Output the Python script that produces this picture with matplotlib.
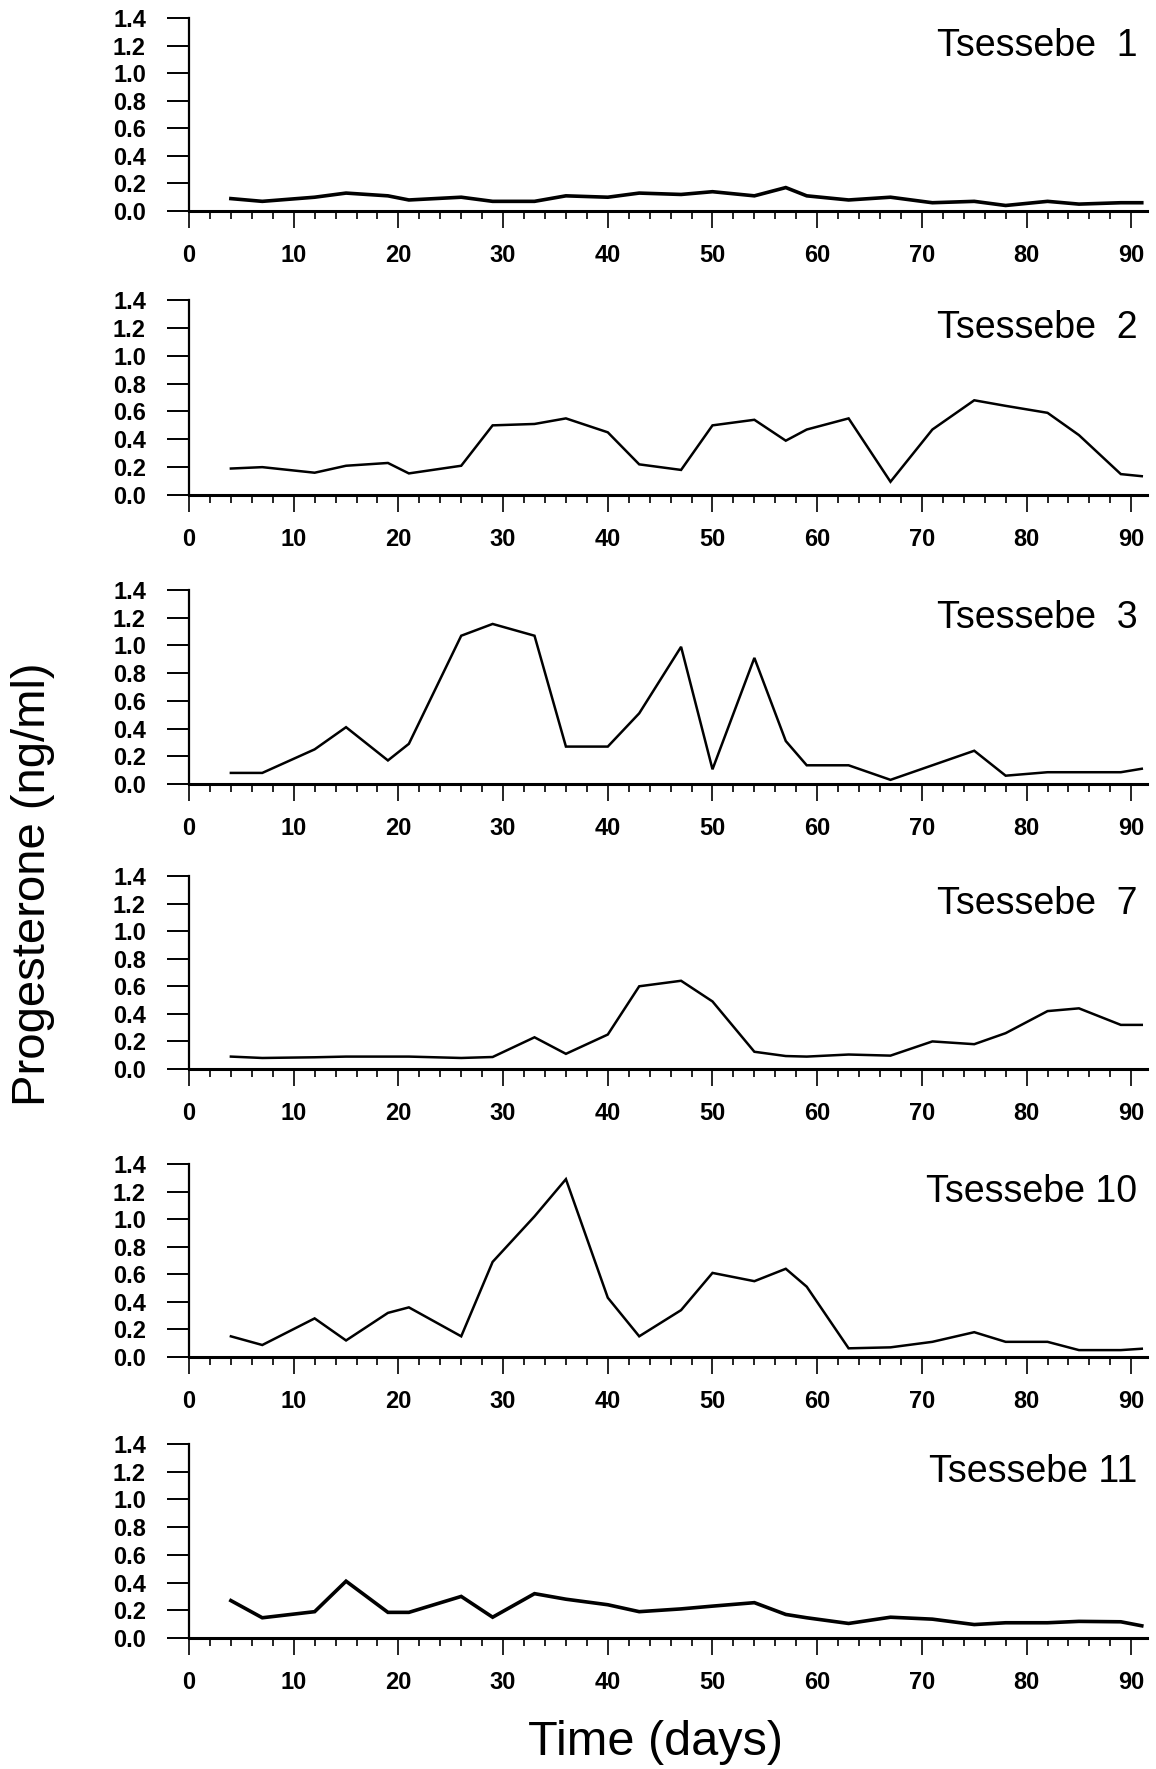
import matplotlib.pyplot as plt
from matplotlib.ticker import MultipleLocator

plt.rcParams['font.family'] = ['Liberation Sans', 'DejaVu Sans']

days = [4, 7, 12, 15, 19, 21, 26, 29, 33, 36, 40, 43, 47, 50, 54, 57, 59,
        63, 67, 71, 75, 78, 82, 85, 89, 91]

names = ["Tsessebe  1", "Tsessebe  2", "Tsessebe  3", "Tsessebe  7",
         "Tsessebe 10", "Tsessebe 11"]

t1 = [0.09, 0.07, 0.10, 0.13, 0.11, 0.08, 0.10, 0.07, 0.07, 0.11, 0.10, 0.13, 0.12,
      0.14, 0.11, 0.17, 0.11, 0.08, 0.10, 0.06, 0.07, 0.04, 0.07, 0.05, 0.06, 0.06]
t2 = [0.19, 0.20, 0.16, 0.21, 0.23, 0.155, 0.21, 0.50, 0.51, 0.55, 0.45, 0.22, 0.18,
      0.50, 0.54, 0.39, 0.47, 0.55, 0.095, 0.47, 0.68, 0.64, 0.59, 0.43, 0.15, 0.135]
t3 = [0.08, 0.08, 0.25, 0.41, 0.17, 0.29, 1.07, 1.155, 1.07, 0.27, 0.27, 0.51, 0.99,
      0.106, 0.91, 0.31, 0.135, 0.135, 0.03, 0.135, 0.24, 0.06, 0.085, 0.085, 0.085, 0.11]
t7 = [0.09, 0.08, 0.085, 0.09, 0.09, 0.09, 0.08, 0.087, 0.23, 0.11, 0.25, 0.60, 0.64,
      0.49, 0.125, 0.094, 0.09, 0.105, 0.097, 0.20, 0.18, 0.26, 0.42, 0.44, 0.32, 0.32]
t10 = [0.15, 0.087, 0.28, 0.12, 0.32, 0.36, 0.15, 0.69, 1.02, 1.29, 0.43, 0.15, 0.34,
       0.61, 0.55, 0.64, 0.51, 0.063, 0.07, 0.11, 0.18, 0.11, 0.11, 0.05, 0.05, 0.06]
t11 = [0.27, 0.146, 0.19, 0.41, 0.185, 0.185, 0.30, 0.15, 0.32, 0.28, 0.24, 0.19, 0.21,
       0.23, 0.255, 0.17, 0.146, 0.105, 0.15, 0.136, 0.097, 0.11, 0.11, 0.12, 0.117, 0.088]

series = [t1, t2, t3, t7, t10, t11]
widths = [2.6, 1.8, 1.8, 1.8, 1.8, 2.6]

W, H = 1156, 1769
tops = [18, 300, 590, 876, 1164, 1444]
bottoms = [211, 495, 784, 1069, 1357, 1638]
left, right = 189, 1147

fig = plt.figure(figsize=(W / 100, H / 100), dpi=100)

for name, y, lw, top, bot in zip(names, series, widths, tops, bottoms):
    ax = fig.add_axes([left / W, 1 - bot / H, (right - left) / W, (bot - top) / H])
    ax.plot(days, y, color='black', lw=lw, solid_joinstyle='miter')
    ax.set_xlim(0, 91.5)
    ax.set_ylim(0, 1.4)
    ax.spines['top'].set_visible(False)
    ax.spines['right'].set_visible(False)
    ax.spines['bottom'].set_linewidth(2.2)
    ax.spines['left'].set_linewidth(1.6)
    ax.xaxis.set_major_locator(MultipleLocator(10))
    ax.xaxis.set_minor_locator(MultipleLocator(2))
    ax.yaxis.set_major_locator(MultipleLocator(0.2))
    ax.set_yticklabels([f"{v:.1f}" for v in ax.get_yticks()])
    ax.tick_params(axis='x', which='major', length=12, width=1.2, pad=12, labelsize=17)
    ax.tick_params(axis='x', which='minor', length=6, width=1.2)
    ax.tick_params(axis='y', length=16, width=1.4, pad=15, labelsize=17)
    for lab in ax.get_xticklabels() + ax.get_yticklabels():
        lab.set_fontweight('bold')
    ax.text(0.99, 0.95, name, transform=ax.transAxes, ha='right', va='top', fontsize=27)

fig.text(33 / W, 0.5, "Progesterone (ng/ml)", rotation=90, ha='center', va='center', fontsize=34)
fig.text(0.567, 1 - 1742 / H, "Time (days)", ha='center', va='center', fontsize=35)

fig.savefig("out.png", dpi=100)
